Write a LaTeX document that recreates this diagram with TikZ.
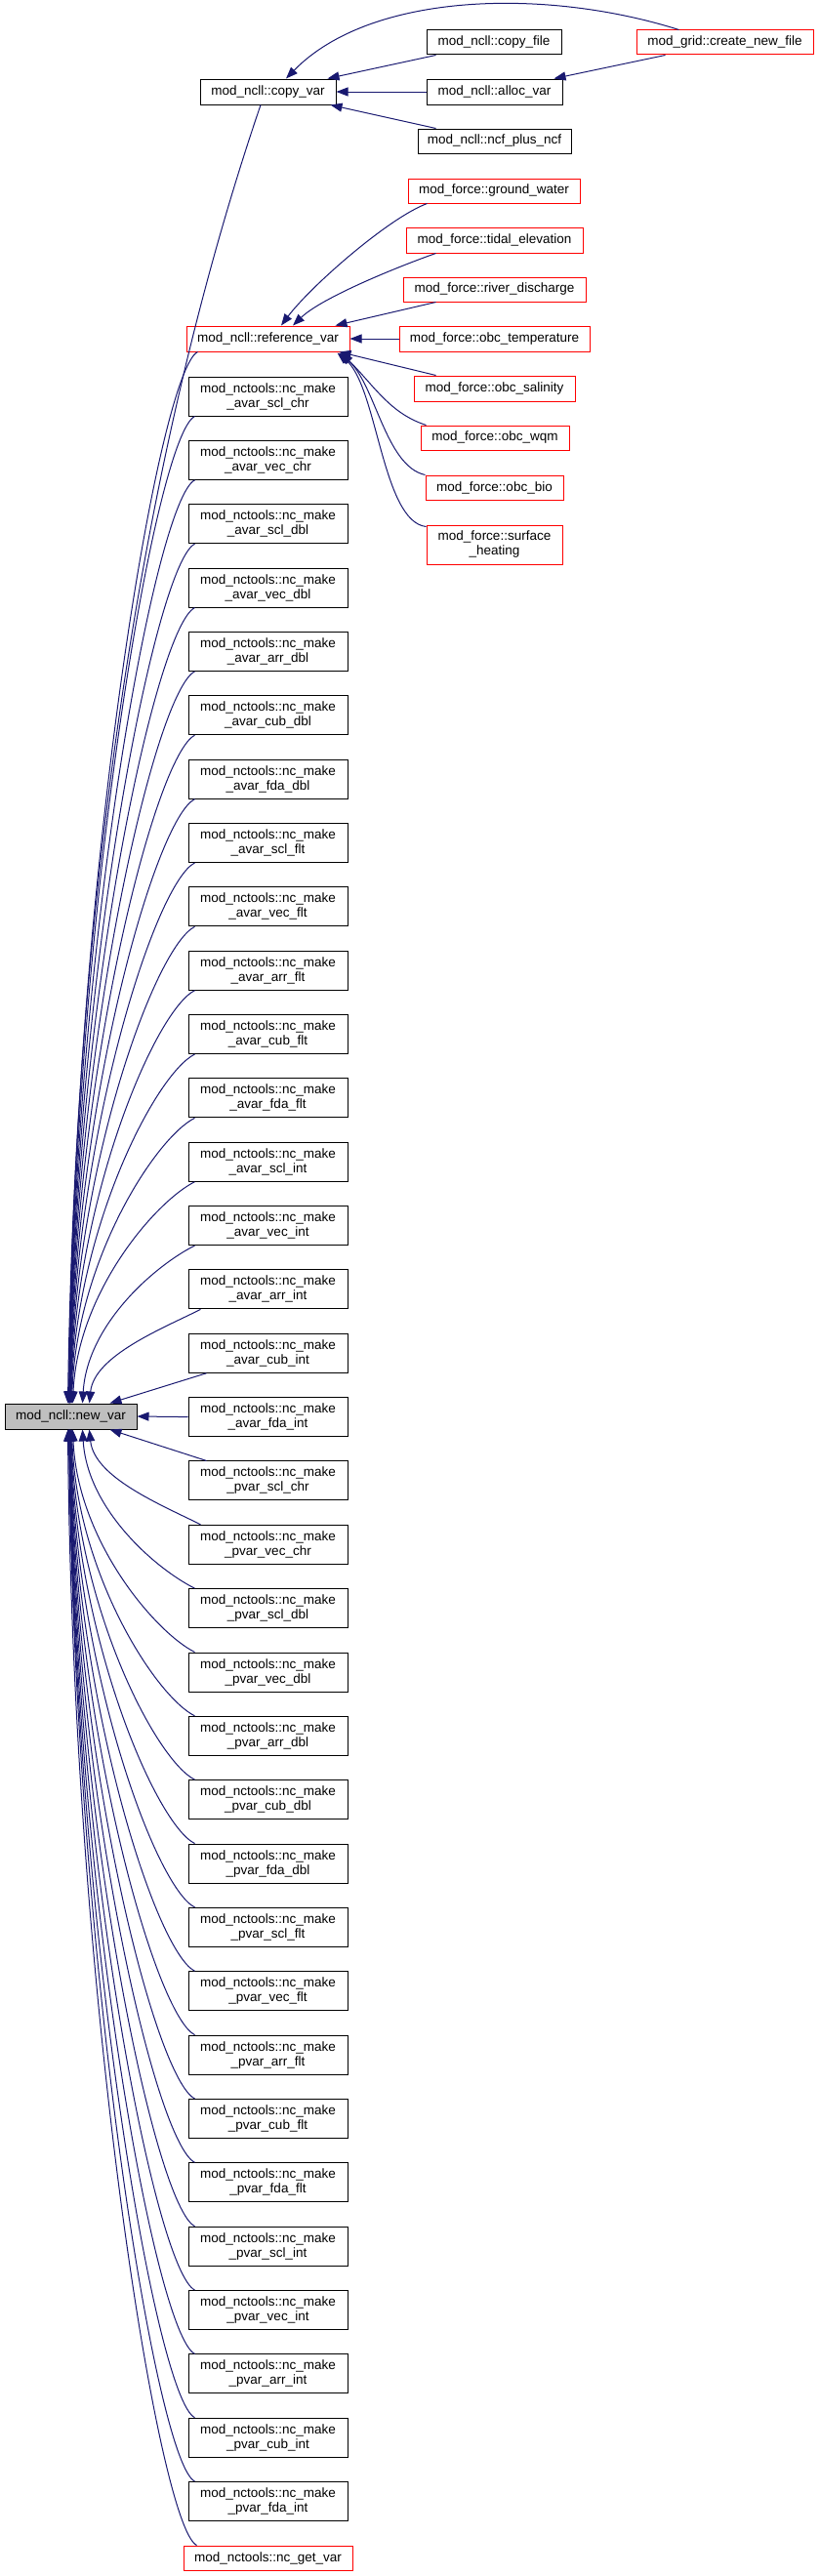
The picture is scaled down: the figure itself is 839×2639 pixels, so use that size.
\documentclass[tikz,border=0pt]{standalone}
\usepackage{fontspec}
\setmainfont{Liberation Sans}
\usetikzlibrary{arrows.meta,calc}
\definecolor{edgeblue}{HTML}{191970}
\definecolor{nodegrey}{HTML}{BFBFBF}
\definecolor{boxred}{HTML}{FF0000}
\tikzset{
  box/.style={draw=black, line width=1pt, fill=white, inner sep=0pt, align=center,
    font=\fontsize{13.5}{15}\selectfont},
  redbox/.style={box, draw=boxred},
  edge/.style={draw=edgeblue, line width=1pt, -{Triangle[length=12pt,width=9pt]}},
}
\begin{document}
\begin{tikzpicture}[x=1pt,y=-1pt]
\useasboundingbox (0,0) rectangle (839,2639);
% main nodes
\node[box, fill=nodegrey, minimum width=135pt, minimum height=26pt] (nv) at (72.5,1451) {mod\_ncll::new\_var};
\node[box, minimum width=139pt, minimum height=26pt] (cv) at (274.5,94) {mod\_ncll::copy\_var};
\node[redbox, minimum width=167pt, minimum height=26pt] (rv) at (274.5,347) {mod\_ncll::reference\_var};
% copy_var callers
\node[box, minimum width=138pt, minimum height=25pt] (cf) at (506,43.5) {mod\_ncll::copy\_file};
\node[box, minimum width=139pt, minimum height=26pt] (av) at (506.5,94) {mod\_ncll::alloc\_var};
\node[box, minimum width=157pt, minimum height=25pt] (np) at (506.5,144.5) {mod\_ncll::ncf\_plus\_ncf};
\node[redbox, minimum width=181pt, minimum height=25pt] (cn) at (742.5,43.5) {mod\_grid::create\_new\_file};
% reference_var callers
\node[redbox, minimum width=176pt, minimum height=25pt] (gw) at (506,195.5) {mod\_force::ground\_water};
\node[redbox, minimum width=181pt, minimum height=26pt] (te) at (506.5,246) {mod\_force::tidal\_elevation};
\node[redbox, minimum width=187pt, minimum height=25pt] (rd) at (506.5,296.5) {mod\_force::river\_discharge};
\node[redbox, minimum width=195pt, minimum height=26pt] (ot) at (506.5,347) {mod\_force::obc\_temperature};
\node[redbox, minimum width=165pt, minimum height=26pt] (os) at (506.5,398) {mod\_force::obc\_salinity};
\node[redbox, minimum width=152pt, minimum height=25pt] (ow) at (507,448.5) {mod\_force::obc\_wqm};
\node[redbox, minimum width=141pt, minimum height=25pt] (ob) at (506.5,499.5) {mod\_force::obc\_bio};
\node[redbox, minimum width=139pt, minimum height=40pt] (sh) at (506.5,558) {mod\_force::surface\\\_heating};
% nc_make nodes
\foreach \lab [count=\i from 0] in {avar\_scl\_chr,avar\_vec\_chr,avar\_scl\_dbl,avar\_vec\_dbl,avar\_arr\_dbl,avar\_cub\_dbl,avar\_fda\_dbl,avar\_scl\_flt,avar\_vec\_flt,avar\_arr\_flt,avar\_cub\_flt,avar\_fda\_flt,avar\_scl\_int,avar\_vec\_int,avar\_arr\_int,avar\_cub\_int,avar\_fda\_int,pvar\_scl\_chr,pvar\_vec\_chr,pvar\_scl\_dbl,pvar\_vec\_dbl,pvar\_arr\_dbl,pvar\_cub\_dbl,pvar\_fda\_dbl,pvar\_scl\_flt,pvar\_vec\_flt,pvar\_arr\_flt,pvar\_cub\_flt,pvar\_fda\_flt,pvar\_scl\_int,pvar\_vec\_int,pvar\_arr\_int,pvar\_cub\_int,pvar\_fda\_int}{
  \node[box, minimum width=163pt, minimum height=40pt] (m\i) at (274.5,{406+65.35*\i}) {mod\_nctools::nc\_make\\\_\lab};
}
\node[redbox, minimum width=173pt, minimum height=25pt] (gv) at (274.5,2620.5) {mod\_nctools::nc\_get\_var};
% edges into copy_var
\draw[edge] ($(cf.south west)+(10,0)$) -- ($(cv.north east)+(-9,0)$);
\draw[edge] (av.west) -- (cv.east);
\draw[edge] ($(np.north west)+(19,0)$) -- ($(cv.south east)+(-6,0)$);
\draw[edge] ($(cn.north west)+(44,0)$) .. controls +(-136,-43) and +(87,-89) .. ($(cv.north)+(18.5,0)$);
\draw[edge] ($(cn.south west)+(30,0)$) -- ($(av.north east)+(-9,0)$);
% edges into reference_var
\draw[edge] ($(gw.south west)+(20,0)$) .. controls +(-40,15) and +(30,-40) .. ($(rv.north)+(13.5,0)$);
\draw[edge] ($(te.south west)+(31,0)$) .. controls +(-37,13) and +(30,-29) .. ($(rv.north)+(25.5,0)$);
\draw[edge] ($(rd.south west)+(34,0)$) -- ($(rv.north east)+(-15,0)$);
\draw[edge] (ot.west) -- (rv.east);
\draw[edge] ($(os.north west)+(23,0)$) -- ($(rv.south east)+(-11,0)$);
\draw[edge] ($(ow.north west)+(6,0)$) .. controls +(-37,-12) and +(34,34) .. ($(rv.south east)+(-9,1)$);
\draw[edge] (ob.north west) .. controls +(-41,-9) and +(37,31) .. ($(rv.south east)+(-11,1)$);
\draw[edge] ($(sh.north west)+(0,2)$) .. controls +(-45,-5) and +(41,34) .. ($(rv.south east)+(-13,1)$);
% edges into new_var
\draw[edge] ($(cv.south)+(-7.5,0)$) .. controls +(-117,343) and +(8,-538) .. ($(nv.north west)+(65,0)$);
\draw[edge] ($(rv.south west)+(12,0)$) .. controls +(-40,20) and +(5,-539) .. ($(nv.north west)+(66,0)$);
\foreach \i in {0,...,15}{
  \pgfmathtruncatemacro{\d}{16-\i}
  \pgfmathsetmacro{\k}{0.5*(1438-(426+65.35*\i))}
  \ifnum\d=1
    \draw[edge] ($(m\i.south west)+(19,0)$) -- ($(nv.north west)+(108,0)$);
  \else
    \pgfmathsetmacro{\xe}{\d==2 ? 87 : (\d==3 ? 80 : 65+20/\d)}
    \pgfmathsetmacro{\sx}{\d==2 ? 13 : 7}
    \draw[edge] ($(m\i.south west)+(\sx,0)$) .. controls +(-40,20) and +(5,-\k) .. ($(nv.north west)+(\xe,0)$);
  \fi
}
\draw[edge] (m16.west) -- (nv.east);
\foreach \i in {17,...,33}{
  \pgfmathtruncatemacro{\d}{\i-16}
  \pgfmathsetmacro{\k}{0.5*((386+65.35*\i)-1464)}
  \ifnum\d=1
    \draw[edge] ($(m\i.north west)+(19,0)$) -- ($(nv.south west)+(108,0)$);
  \else
    \pgfmathsetmacro{\xe}{\d==2 ? 87 : (\d==3 ? 80 : 65+20/\d)}
    \pgfmathsetmacro{\sx}{\d==2 ? 13 : 7}
    \draw[edge] ($(m\i.north west)+(\sx,0)$) .. controls +(-40,-20) and +(5,\k) .. ($(nv.south west)+(\xe,0)$);
  \fi
}
\draw[edge] ($(gv.north west)+(14,0)$) .. controls +(-40,-20) and +(5,572) .. ($(nv.south west)+(65,0)$);
\end{tikzpicture}
\end{document}
